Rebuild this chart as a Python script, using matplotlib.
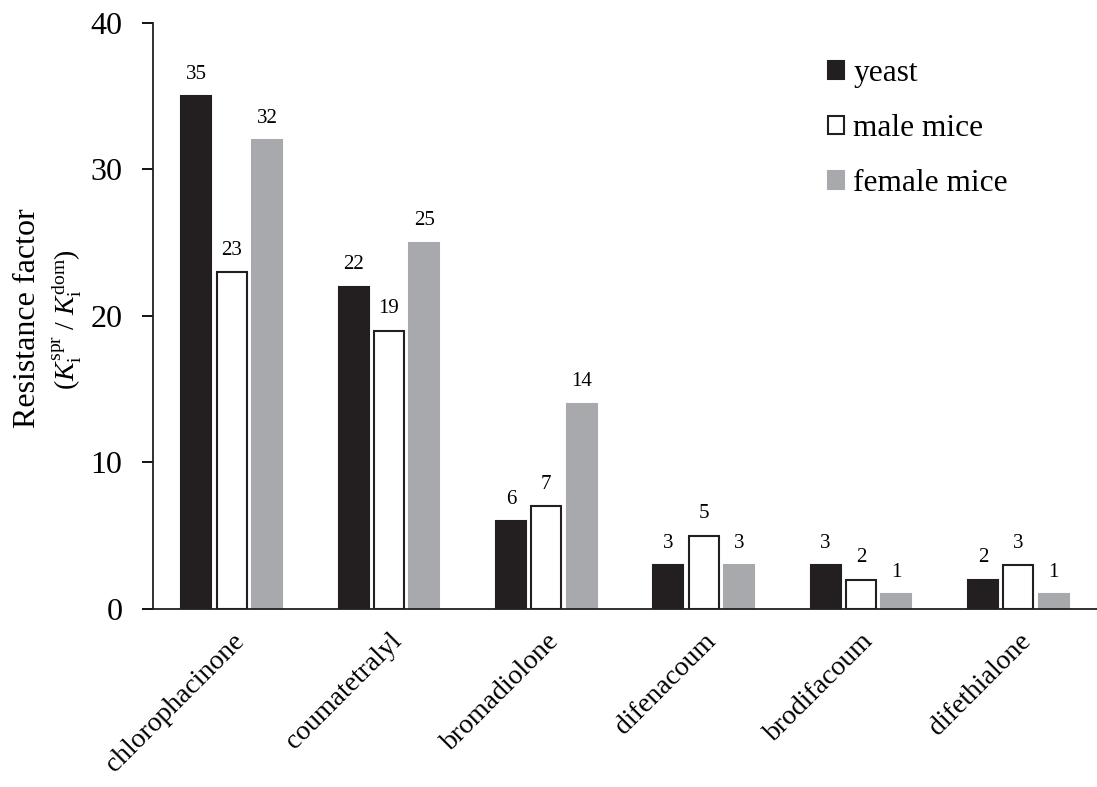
import matplotlib
matplotlib.use("Agg")
import matplotlib.pyplot as plt
import numpy as np

plt.rcParams['font.family'] = ['Liberation Serif', 'DejaVu Serif']
plt.rcParams['mathtext.fontset'] = 'custom'
plt.rcParams['mathtext.rm'] = 'Liberation Serif'
plt.rcParams['mathtext.it'] = 'Liberation Serif:italic'

categories = ['chlorophacinone', 'coumatetralyl', 'bromadiolone', 'difenacoum', 'brodifacoum', 'difethialone']
series_names = ['yeast', 'male mice', 'female mice']
yeast = [35, 22, 6, 3, 3, 2]
male_mice = [23, 19, 7, 5, 2, 3]
female_mice = [32, 25, 14, 3, 1, 1]
yticks = [0, 10, 20, 30, 40]

fig = plt.figure(figsize=(10.97, 7.87), dpi=100)
ax = fig.add_axes([0.1395, 0.2262, 0.8605, 0.7446])

x = np.arange(len(categories))
w = 0.19
off = 0.225
styles = [dict(color='#231f20', edgecolor='#231f20'),
          dict(color='white', edgecolor='#231f20'),
          dict(color='#a7a9ac', edgecolor='#a7a9ac')]
for i, (vals, name, st) in enumerate(zip([yeast, male_mice, female_mice], series_names, styles)):
    bars = ax.bar(x + (i - 1) * off, vals, w, label=name, linewidth=1.5, **st)
    for b, v in zip(bars, vals):
        ax.annotate(str(v), (b.get_x() + b.get_width() / 2, v), xytext=(0, 9),
                    textcoords='offset points', ha='center', va='bottom', fontsize=15)

ax.set_xlim(-0.5, len(categories) - 0.5)
ax.set_ylim(0, 40)
ax.set_yticks(yticks)
ax.set_yticklabels([str(t) for t in yticks], fontsize=23)
ax.set_xticks(x)
ax.set_xticklabels(categories, rotation=45, ha='right', rotation_mode='anchor', fontsize=20)
ax.tick_params(axis='x', length=0, pad=14)
ax.tick_params(axis='y', direction='out', length=8, width=1.3, pad=14)
for s in ['top', 'right']:
    ax.spines[s].set_visible(False)
for s in ['left', 'bottom']:
    ax.spines[s].set_linewidth(1.3)
    ax.spines[s].set_color('#231f20')

fig.text(0.025, 0.596, 'Resistance factor', rotation=90, ha='center', va='center', fontsize=23)
fig.text(0.061, 0.594, r'($K_\mathrm{i}^\mathrm{spr}$ / $K_\mathrm{i}^\mathrm{dom}$)', rotation=90,
         ha='center', va='center', fontsize=20)

ax.legend(frameon=False, loc='upper left', bbox_to_anchor=(0.729, 0.9606), bbox_transform=fig.transFigure,
          fontsize=22.6, handlelength=0.5, handleheight=0.5, handletextpad=0.3, labelspacing=0.83)

fig.savefig('out.png', dpi=100)
